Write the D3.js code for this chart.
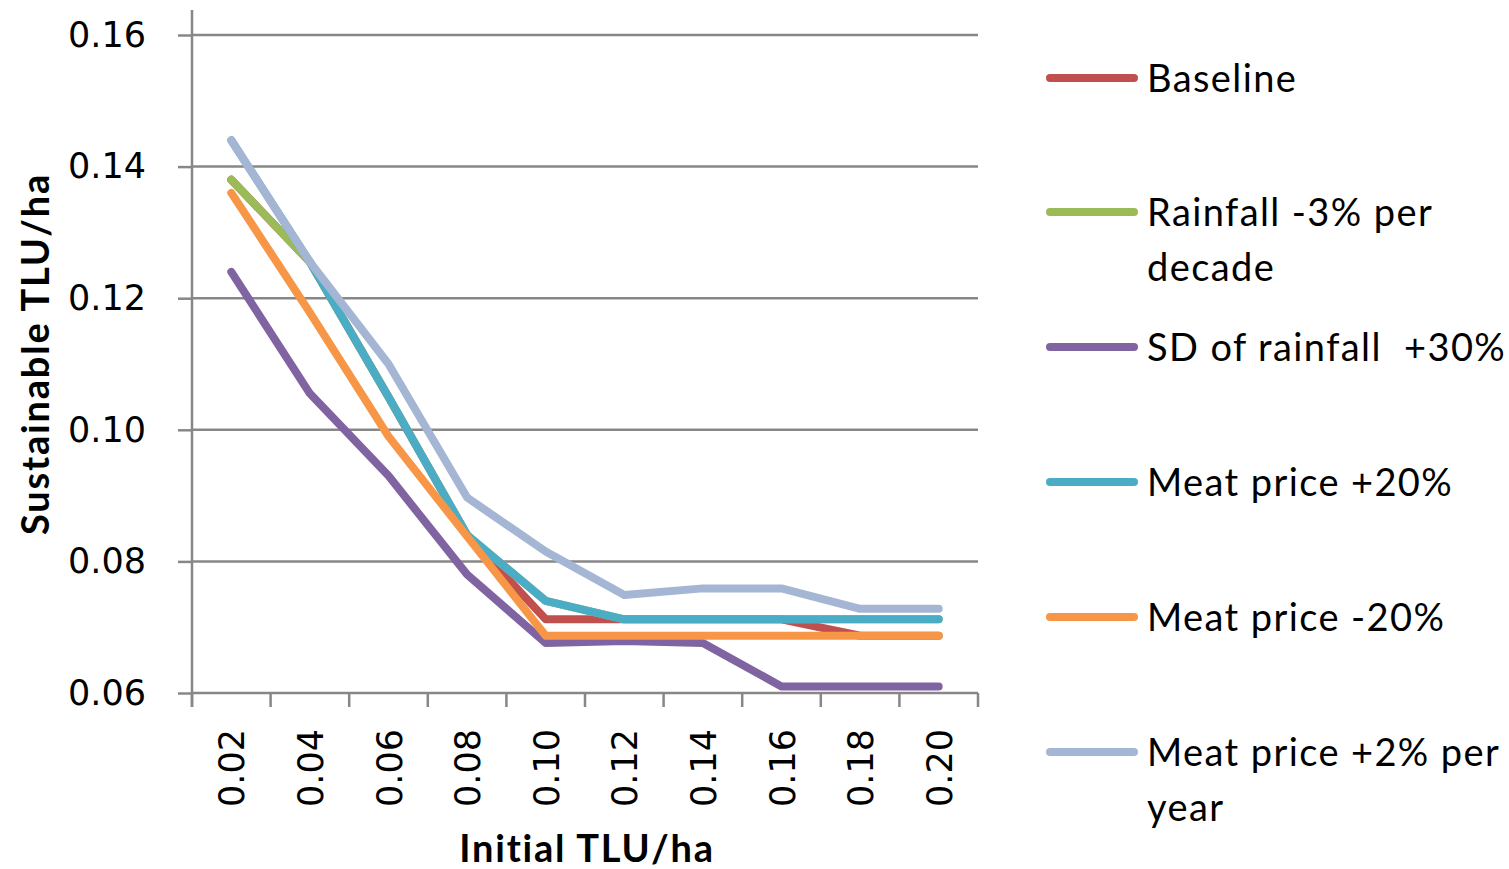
<!DOCTYPE html>
<html>
<head>
<meta charset="utf-8">
<script src="https://cdn.jsdelivr.net/npm/d3@7"></script>
<style>
  html, body { margin: 0; padding: 0; background: #fff; }
  svg { display: block; }
</style>
</head>
<body>
<svg id="chart" width="1509" height="869"></svg>
<script>
// Initial stocking rate categories (x axis)
const categories = ["0.02", "0.04", "0.06", "0.08", "0.10", "0.12", "0.14", "0.16", "0.18", "0.20"];

// Sustainable TLU/ha under each scenario
const baseline    = [0.138, 0.1255, 0.105, 0.084, 0.0712, 0.0712, 0.0712, 0.0712, 0.0687, 0.0687];
const rainfall3   = [0.138, 0.1255, 0.105, 0.084, 0.074, 0.0712, 0.0712, 0.0712, 0.0712, 0.0712];
const sdRainfall  = [0.124, 0.1055, 0.093, 0.078, 0.0676, 0.0679, 0.0676, 0.061, 0.061, 0.061];
const meatPlus20  = [0.144, 0.1255, 0.105, 0.084, 0.074, 0.0712, 0.0712, 0.0712, 0.0712, 0.0712];
const meatMinus20 = [0.136, 0.1178, 0.099, 0.0838, 0.0687, 0.0687, 0.0687, 0.0687, 0.0687, 0.0687];
const meatPlus2yr = [0.144, 0.1255, 0.110, 0.0897, 0.0815, 0.0749, 0.0759, 0.0759, 0.0728, 0.0728];

const seriesNames = [
  ["Baseline"],
  ["Rainfall -3% per", "decade"],
  ["SD of rainfall  +30%"],
  ["Meat price +20%"],
  ["Meat price -20%"],
  ["Meat price +2% per", "year"]
];
const seriesValues = [baseline, rainfall3, sdRainfall, meatPlus20, meatMinus20, meatPlus2yr];
const seriesColors = ["#C0504D", "#9BBB59", "#8064A2", "#4BACC6", "#F79646", "#A5B6D4"];

const yTicks = [0.06, 0.08, 0.10, 0.12, 0.14, 0.16];

const svg = d3.select("#chart");
const plot = { left: 192, right: 978, top: 35, bottom: 693 };

const x = d3.scaleBand().domain(categories).range([plot.left, plot.right]).padding(0);
const y = d3.scaleLinear().domain([0.06, 0.16]).range([plot.bottom, plot.top]);

const gridColor = "#878787";
const tickFont = "'DejaVu Sans', sans-serif";
const textFont = "Lato, 'Open Sans', sans-serif";

// Horizontal gridlines
svg.append("g")
  .selectAll("line")
  .data(yTicks.filter(d => d > 0.06))
  .join("line")
  .attr("x1", plot.left).attr("x2", plot.right)
  .attr("y1", d => y(d)).attr("y2", d => y(d))
  .attr("stroke", gridColor).attr("stroke-width", 2.5);

// Y axis
const yAxis = svg.append("g")
  .attr("transform", `translate(${plot.left},0)`)
  .call(d3.axisLeft(y).tickValues(yTicks).tickFormat(d3.format(".2f")).tickSize(14).tickPadding(32));
yAxis.select(".domain").remove();
yAxis.selectAll(".tick line").attr("stroke", gridColor).attr("stroke-width", 2.5);
yAxis.selectAll(".tick text")
  .attr("font-family", tickFont).attr("font-size", 35).attr("fill", "#000");
svg.append("line")
  .attr("x1", plot.left).attr("x2", plot.left)
  .attr("y1", 10).attr("y2", plot.bottom + 14)
  .attr("stroke", gridColor).attr("stroke-width", 2.5);

// X axis: ticks at category boundaries, labels rotated at band centres
svg.append("line")
  .attr("x1", plot.left).attr("x2", plot.right)
  .attr("y1", plot.bottom).attr("y2", plot.bottom)
  .attr("stroke", gridColor).attr("stroke-width", 2.5);
const boundaries = categories.map(c => x(c)).concat([x(categories[categories.length - 1]) + x.bandwidth()]);
svg.append("g")
  .selectAll("line")
  .data(boundaries)
  .join("line")
  .attr("x1", d => d).attr("x2", d => d)
  .attr("y1", plot.bottom).attr("y2", plot.bottom + 14)
  .attr("stroke", gridColor).attr("stroke-width", 2.5);
svg.append("g")
  .selectAll("text")
  .data(categories)
  .join("text")
  .attr("transform", d => `translate(${x(d) + x.bandwidth() / 2 + 13},729) rotate(-90)`)
  .attr("text-anchor", "end")
  .attr("font-family", tickFont).attr("font-size", 35).attr("fill", "#000")
  .text(d => d);

// Axis titles
svg.append("text")
  .attr("x", 587).attr("y", 862)
  .attr("text-anchor", "middle")
  .attr("font-family", textFont).attr("font-weight", "bold").attr("font-size", 38)
  .attr("letter-spacing", 1.8)
  .attr("fill", "#000")
  .text("Initial TLU/ha");
svg.append("text")
  .attr("transform", `translate(49,${(178 + 530) / 2}) rotate(-90)`)
  .attr("text-anchor", "middle")
  .attr("font-family", textFont).attr("font-weight", "bold").attr("font-size", 38)
  .attr("letter-spacing", 1.8)
  .attr("fill", "#000")
  .text("Sustainable  TLU/ha");

// Series lines
const line = d3.line()
  .x((d, i) => x(categories[i]) + x.bandwidth() / 2)
  .y(d => y(d));
svg.append("g")
  .selectAll("path")
  .data(seriesValues)
  .join("path")
  .attr("d", d => line(d))
  .attr("fill", "none")
  .attr("stroke", (d, i) => seriesColors[i])
  .attr("stroke-width", 8)
  .attr("stroke-linejoin", "round")
  .attr("stroke-linecap", "round");

// Legend
const legendY = [78, 212, 347, 482, 617, 752];
const legend = svg.append("g")
  .selectAll("g")
  .data(seriesNames)
  .join("g")
  .attr("transform", (d, i) => `translate(0,${legendY[i]})`);
legend.append("line")
  .attr("x1", 1050).attr("x2", 1134)
  .attr("y1", 0).attr("y2", 0)
  .attr("stroke", (d, i) => seriesColors[i])
  .attr("stroke-width", 8)
  .attr("stroke-linecap", "round");
legend.append("text")
  .attr("x", 1147).attr("y", 14)
  .attr("font-family", textFont).attr("font-size", 38).attr("fill", "#000")
  .attr("letter-spacing", 1.4)
  .selectAll("tspan")
  .data(d => d)
  .join("tspan")
  .attr("x", 1147)
  .attr("dy", (d, i) => i === 0 ? 0 : 55)
  .attr("xml:space", "preserve")
  .style("white-space", "pre")
  .text(d => d);
</script>
</body>
</html>
